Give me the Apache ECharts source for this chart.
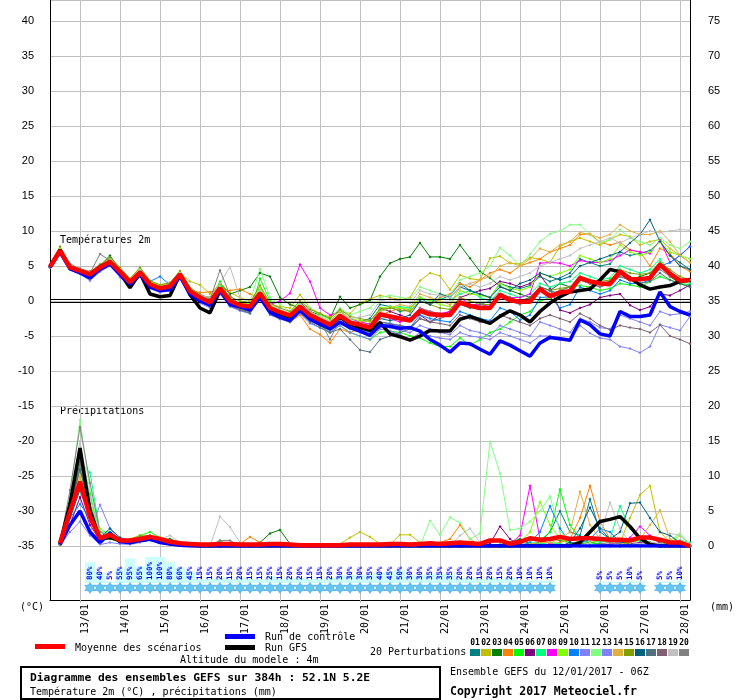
<!DOCTYPE html>
<html><head><meta charset="utf-8">
<script src="https://cdn.jsdelivr.net/npm/echarts@6/dist/echarts.min.js"></script>
<style>html,body{margin:0;padding:0;background:#fff}#c{width:740px;height:700px}</style>
</head><body><div id="c"></div>
<script>
// ---- categories / labels ----
const dates = ['12/01','13/01','14/01','15/01','16/01','17/01','18/01','19/01','20/01','21/01','22/01','23/01','24/01','25/01','26/01','27/01','28/01'];
const hours = ['00Z','06Z','12Z','18Z'];
const dayLabels = ['13/01','14/01','15/01','16/01','17/01','18/01','19/01','20/01','21/01','22/01','23/01','24/01','25/01','26/01','27/01','28/01'];
const perturbNames = ['01','02','03','04','05','06','07','08','09','10','11','12','13','14','15','16','17','18','19','20'];
const perturbColors = ['#008080','#c0c000','#008000','#ff8000','#00ff00','#800080','#00ff80','#ff00ff','#80ff00','#0080ff','#8080ff','#80ff80','#8080ff','#e0b040','#80a000','#006080','#507080','#806070','#c0c0c0','#808080'];

// ---- temperature 2m (°C) ----
const tempMean = [4.9,7.2,4.8,4.3,3.8,4.8,5.6,4.2,2.7,4.1, 2.4,1.8,2.1,3.8,1.4,0.5,-0.2,1.8,0.0,-0.6, -0.8,1.1,-1.0,-1.6,-2.1,-0.8,-2.0,-2.7,-3.4,-2.1, -3.1,-3.4,-3.8,-1.9,-2.2,-2.5,-2.8,-1.4,-1.9,-2.0, -2.0,-0.2,-0.7,-1.0,-1.0,0.9,0.1,-0.1,-0.1,1.7, 0.7,1.2,1.4,3.3,2.8,2.5,2.4,4.2,3.1,3.1, 3.3,5.2,3.9,2.9,3.0];
const tempControl = [4.8,7.0,4.6,4.0,3.3,4.5,5.3,3.8,2.4,3.8, 2.0,1.5,1.6,3.5,1.0,0.0,-0.6,1.5,-0.5,-0.8, -1.3,0.5,-1.6,-2.3,-2.8,-1.3,-2.6,-3.3,-4.0,-3.0, -3.8,-4.3,-4.9,-3.5,-3.6,-3.9,-3.8,-4.3,-5.5,-6.3, -7.3,-6.0,-6.1,-6.9,-7.6,-5.7,-6.3,-7.1,-7.9,-6.0, -5.2,-5.4,-5.6,-2.7,-3.4,-4.7,-5.0,-1.5,-2.2,-2.2, -2.0,1.3,-0.8,-1.5,-2.0];
const tempGFS = [4.9,7.3,4.7,4.1,3.6,4.9,5.5,4.0,1.9,4.0, 1.0,0.6,0.8,3.8,0.9,-1.0,-1.7,1.5,-0.3,-0.8, -1.0,1.0,-1.2,-1.8,-2.3,-0.9,-2.2,-2.9,-3.4,-2.3, -3.3,-3.8,-4.2,-3.1,-4.7,-5.1,-5.6,-5.0,-4.2,-4.3, -4.3,-2.6,-2.2,-2.7,-3.2,-2.2,-1.4,-2.0,-3.0,-1.5, -0.3,0.6,1.3,1.5,1.7,3.0,4.5,4.2,3.3,2.3, 1.7,2.0,2.2,2.8,3.0];
const tempP01 = [4.8,7.0,4.9,4.4,3.6,5.0,5.8,4.3,2.5,4.0, 2.2,1.5,1.8,3.6,1.2,0.2,-0.5,1.6,-0.3,-1.0, -1.2,0.8,-1.5,-2.0,-2.4,-1.0,-2.5,-3.0,-3.8,-2.5, -3.5,-3.0,-2.5,-0.5,-0.8,-1.5,-1.2,0.5,-0.5,0.2, 0.8,2.5,1.5,1.0,0.5,2.5,2.0,1.8,2.2,3.5, 2.8,3.3,4.0,6.0,5.5,5.0,5.3,7.0,6.5,6.8, 7.2,8.5,6.5,5.5,4.5];
const tempP02 = [4.9,7.4,5.0,4.5,4.0,5.2,5.9,4.6,3.0,4.4, 2.8,2.3,2.6,4.0,2.8,2.3,1.0,2.5,1.2,0.5, 0.0,1.5,-0.5,-0.8,-1.0,0.9,-1.0,-1.8,-2.3,-1.5, -1.8,-0.3,0.3,0.8,0.5,0.2,0.5,2.9,4.0,3.6, 1.6,3.7,3.2,3.0,6.1,6.4,5.4,5.3,6.2,6.0, 5.5,7.8,8.5,9.0,8.5,8.0,8.8,9.5,9.2,8.0, 8.5,8.8,7.5,6.5,5.5];
const tempP03 = [4.9,7.1,4.7,4.2,3.9,5.0,6.5,4.4,2.8,4.2, 2.3,1.6,2.0,3.9,1.5,0.8,0.5,2.5,1.0,1.5, 2.0,4.0,3.5,0.5,-0.5,-1.0,-1.5,-2.0,-2.5,0.6, -1.0,-0.5,0.1,3.5,5.4,6.0,6.3,8.3,6.3,6.3, 6.0,8.0,6.1,4.2,3.3,2.1,1.5,1.0,0.5,2.0, 1.5,2.5,2.0,3.5,3.0,2.5,2.8,4.0,3.0,3.5, 4.0,5.5,3.5,2.5,2.0];
const tempP04 = [4.8,7.0,4.6,4.2,3.0,4.5,5.4,4.0,2.4,3.9, 2.2,1.5,1.9,3.5,1.6,1.2,1.3,1.5,1.5,1.7, 1.0,0.5,-1.0,-2.0,-3.0,-2.0,-4.0,-4.8,-6.0,-4.0, -4.5,-4.0,-3.5,-2.0,-1.5,-1.0,-1.5,0.0,-0.5,0.5, 1.0,2.5,2.0,3.0,4.0,4.5,4.0,5.0,5.5,6.0, 7.0,7.5,8.0,9.5,9.6,8.4,8.0,8.4,7.3,7.0, 5.0,7.5,6.8,5.0,4.2];
const tempP05 = [4.9,7.2,4.8,4.4,3.8,4.9,5.8,4.3,2.6,4.3, 2.5,1.9,2.2,3.9,1.5,0.5,-0.3,2.8,0.0,-1.2, -1.8,3.2,0.0,-1.5,-2.6,-1.0,-2.5,-3.5,-4.5,-3.5, -4.5,-5.0,-5.5,-4.5,-4.3,-4.5,-5.0,-5.3,-6.0,-6.5, -6.5,-5.3,-6.3,-5.5,-4.5,-4.0,-3.0,-2.0,-1.5,0.0, 0.5,1.5,2.0,2.2,2.0,1.5,1.8,2.5,2.3,2.0, 2.8,3.5,3.0,2.5,2.3];
const tempP06 = [4.9,7.1,4.7,4.1,3.7,4.7,5.5,4.1,2.6,4.0, 2.3,1.7,2.0,3.7,1.3,0.3,-0.4,1.6,-0.2,-0.9, -1.1,0.8,-1.3,-1.9,-2.4,-0.2,-1.5,-2.5,-3.0,-2.0, -3.0,-3.3,-3.5,-1.0,-1.5,-2.0,-2.5,-2.0,-3.0,-2.0, -1.5,0.5,1.0,1.5,1.8,2.8,2.5,2.0,2.5,3.7, 1.8,-1.3,-1.7,-1.0,-0.5,0.5,0.8,1.0,-0.6,-1.3, -0.8,1.0,0.8,1.5,2.3];
const tempP07 = [4.9,7.3,4.9,4.5,4.0,5.0,5.7,4.3,2.9,4.4, 2.6,2.0,2.3,3.9,1.6,0.6,-0.1,2.0,0.2,-0.4, -0.6,1.5,-0.8,-1.4,-2.0,-0.5,-1.8,-2.5,-3.2,-2.0, -2.8,-3.0,-3.3,-1.5,-1.0,-0.8,-1.0,0.5,0.0,0.3, 0.2,1.0,1.5,0.5,0.0,1.5,1.0,0.5,1.0,2.5, 2.0,2.5,2.8,4.0,3.5,3.0,3.3,5.0,4.5,4.0, 4.5,6.0,4.0,3.0,2.5];
const tempP08 = [4.9,7.0,5.0,4.6,4.2,4.8,5.3,4.0,2.5,4.1, 2.4,2.0,2.2,3.7,1.3,0.3,-0.5,1.5,-0.4,-1.0, -1.2,1.0,-0.5,0.0,1.1,5.2,2.8,-1.0,-2.0,-1.5, -2.5,-3.0,-3.3,-2.0,-2.5,-3.0,-2.5,-1.0,-1.5,-1.8, -1.5,0.5,-0.5,-0.5,-0.8,1.0,0.5,0.5,1.0,5.4, 5.5,5.4,5.0,5.8,5.5,5.5,5.8,6.5,7.3,7.0, 6.8,8.7,5.5,6.5,7.8];
const tempP09 = [5.0,7.5,5.1,4.6,4.1,5.1,6.0,4.6,3.0,4.5, 2.8,2.1,2.5,4.2,1.8,0.9,0.2,2.3,0.4,-0.3, -0.4,2.0,-0.6,-1.3,-1.7,-0.3,-1.6,-2.2,-2.8,-1.5, -2.5,-2.8,-3.0,-1.0,-0.8,-1.0,-1.2,0.5,0.0,-0.5, -0.8,1.5,1.0,0.8,0.5,2.5,1.8,1.5,2.0,4.0, 3.5,4.0,4.5,6.5,6.0,5.5,6.0,8.0,7.0,6.5, 7.0,8.5,7.0,6.5,6.0];
const tempP10 = [4.9,7.1,4.7,4.3,3.7,4.8,5.6,4.1,2.7,4.0, 2.8,3.5,2.3,3.7,1.2,0.2,-0.6,1.5,-0.3,-1.0, -1.2,0.8,-1.4,-2.0,-2.5,-1.2,-2.3,-3.0,-3.8,-2.5, -3.5,-4.0,-4.5,-3.0,-3.2,-3.5,-3.8,-2.0,-2.5,-2.8, -3.0,-1.5,-2.0,-2.5,-2.8,-1.0,-1.5,-2.7,-2.0,0.5, 0.6,-1.0,-0.5,2.0,1.5,1.0,1.5,3.0,2.5,2.5, 3.0,5.0,5.5,6.5,7.8];
const tempP11 = [4.8,6.8,4.5,3.9,2.9,4.2,5.0,3.4,2.2,3.5, 1.8,1.2,1.5,3.2,0.8,-0.3,-1.0,1.0,-0.8,-1.4, -1.8,0.3,-2.0,-2.6,-3.0,-1.8,-3.2,-3.8,-4.5,-3.5, -4.5,-5.0,-5.5,-4.0,-4.3,-4.8,-5.5,-4.5,-5.0,-5.3, -5.5,-4.5,-5.0,-5.2,-5.5,-4.5,-5.0,-5.5,-6.0,-5.0, -5.0,-5.5,-5.5,-3.5,-4.6,-5.3,-5.5,-6.5,-6.8,-7.4, -6.5,-3.4,-3.8,-4.2,-2.2];
const tempP12 = [4.9,7.3,4.9,4.4,3.9,5.0,5.8,4.4,2.9,4.3, 2.5,1.9,2.2,4.0,1.7,0.8,0.0,2.2,0.3,-0.2, -0.2,4.6,0.5,-0.5,-1.5,0.0,-1.0,-2.0,-2.5,-1.0, -2.0,-1.5,-1.0,0.5,0.8,0.5,0.3,2.0,1.5,1.0, 0.8,3.0,3.5,4.0,5.0,7.6,6.5,5.0,6.7,8.5, 9.6,10.0,10.9,10.9,9.5,8.3,8.8,10.2,9.0,8.5, 8.0,9.0,8.0,7.5,8.5];
const tempP13 = [4.8,6.9,4.6,4.0,3.1,4.3,5.1,3.6,2.3,3.6, 1.9,1.3,1.6,3.3,0.9,-0.1,-0.8,1.2,-0.6,-1.2, -1.5,0.5,-1.8,-2.4,-2.8,-1.5,-2.8,-3.5,-4.2,-3.2, -4.0,-4.5,-5.0,-3.5,-3.8,-4.2,-4.5,-3.5,-4.0,-4.5, -4.8,-3.5,-4.2,-4.5,-5.0,-3.5,-4.0,-4.5,-5.0,-3.0, -3.5,-4.0,-4.5,-2.5,-3.0,-3.8,-4.0,-2.0,-2.5,-3.0, -3.5,-1.5,-2.0,-1.8,-1.5];
const tempP14 = [4.9,7.2,4.8,4.3,3.7,4.7,5.5,4.2,2.7,4.0, 2.3,1.7,2.0,3.6,1.4,0.4,-0.3,1.7,-0.2,-0.8, -1.0,1.2,-1.0,-1.8,-2.4,-1.0,-2.2,-3.0,-3.5,-2.5, -3.2,-3.0,-2.8,-1.5,-1.0,-0.5,-0.8,1.0,0.5,0.0, -0.5,2.0,2.5,3.0,3.5,5.0,5.5,5.0,6.0,7.5, 7.0,8.0,8.5,9.8,9.5,9.0,9.5,10.9,10.0,9.5, 9.5,10.0,8.5,6.5,5.5];
const tempP15 = [5.0,7.8,5.1,4.6,4.2,5.2,6.2,4.8,3.2,4.8, 2.9,2.3,2.6,4.3,1.9,1.0,0.3,2.4,0.6,0.0, -0.2,2.2,-0.3,-1.0,-1.5,0.0,-1.2,-1.8,-2.5,-1.2, -2.2,-2.5,-2.8,-1.2,-1.0,-1.3,-1.5,0.0,-0.5,-1.0, -1.2,0.5,0.0,-0.5,-0.5,1.0,0.5,0.0,0.5,2.0, 1.5,1.8,2.0,3.5,3.0,2.8,3.0,4.5,4.0,3.8, 4.0,5.5,4.5,3.5,3.0];
const tempP16 = [4.9,7.1,4.7,4.2,3.6,4.6,5.4,4.0,2.5,3.9, 2.2,1.6,1.9,3.5,1.2,0.2,-0.4,1.6,-0.1,-0.8, -1.0,1.0,-1.2,-1.8,-2.3,-1.0,-2.2,-2.8,-3.3,-2.3, -3.2,-3.5,-3.8,-2.5,-2.8,-2.5,-2.0,0.0,-0.5,1.0, 0.5,2.0,1.5,1.0,0.5,2.0,1.5,2.5,3.0,4.0, 3.5,3.0,3.5,5.0,5.5,6.0,6.5,7.0,8.3,9.5, 11.6,8.5,6.5,5.0,4.5];
const tempP17 = [4.8,7.0,4.6,4.0,3.4,4.5,5.3,3.9,2.4,3.8, 2.0,1.4,1.7,3.4,1.0,0.0,-0.8,1.3,-0.7,-1.3, -1.7,0.4,-1.9,-2.5,-3.0,-1.7,-3.0,-3.8,-4.5,-4.0, -5.5,-7.0,-7.3,-5.5,-5.0,-4.5,-4.0,-2.5,-3.0,-2.5, -2.0,-0.5,-1.0,-0.5,0.0,1.0,0.5,0.0,0.5,2.0, 1.5,1.0,1.5,3.0,2.5,2.0,2.5,3.5,3.0,2.5, 2.8,4.0,3.0,2.5,2.0];
const tempP18 = [4.8,6.9,4.6,4.1,3.5,4.6,5.4,4.0,2.5,3.9, 2.1,1.5,1.8,3.4,1.1,0.0,-0.7,1.3,-0.6,-1.2, -1.5,0.5,-1.6,-2.3,-2.8,-1.5,-2.8,-3.5,-4.0,-3.0, -3.8,-4.0,-4.3,-3.0,-3.3,-3.5,-3.8,-2.5,-3.0,-3.2, -3.5,-2.0,-2.5,-3.0,-3.2,-2.0,-2.5,-3.0,-3.5,-2.5, -2.0,-2.5,-3.0,-1.8,-2.5,-3.5,-4.1,-3.5,-3.8,-4.0, -4.5,-3.4,-5.0,-5.5,-6.1];
const tempP19 = [5.0,7.3,5.1,4.5,4.1,5.0,5.9,4.5,2.9,4.4, 2.6,2.0,2.4,4.0,1.7,0.8,0.5,2.5,4.9,0.5, -0.3,1.5,-0.5,-1.2,-1.8,-0.5,-1.5,-2.3,-3.0,-2.0, -2.5,-2.3,-2.0,0.0,0.3,0.0,-0.3,1.5,1.0,0.8, 0.5,2.0,2.5,2.0,2.5,3.5,3.0,3.5,4.0,5.0, 5.5,6.0,6.5,7.5,8.0,8.5,9.0,8.3,9.0,9.5, 10.0,9.8,10.0,10.2,10.1];
const tempP20 = [4.9,7.2,5.3,4.6,4.0,6.7,5.8,4.3,2.8,4.2, 2.5,1.9,2.2,3.8,1.5,0.7,0.2,4.4,0.8,-0.5, -0.8,1.2,-1.0,-1.7,-2.2,-0.8,-2.0,-2.8,-5.5,-2.5, -3.5,-3.8,-4.0,-2.5,-2.3,-2.5,-2.8,-1.0,-1.5,-1.8, -2.0,0.0,-0.5,-0.8,-1.0,0.5,0.0,-0.5,0.0,1.5, 1.0,1.5,2.0,3.0,2.5,2.0,2.5,3.5,3.0,3.0, 3.5,4.5,3.5,3.0,3.0];

// ---- precipitation (mm / 6h) ----
const rainMean = [null,0.4,4.9,9.2,4.2,1.1,1.6,0.8,0.8,1.0, 1.3,1.0,0.6,0.4,0.3,0.2,0.2,0.3,0.3,0.2, 0.2,0.2,0.3,0.3,0.2,0.1,0.1,0.1,0.1,0.1, 0.2,0.2,0.2,0.2,0.3,0.3,0.2,0.3,0.4,0.3, 0.4,0.5,0.4,0.3,0.8,0.8,0.3,0.6,1.1,0.9, 1.0,1.3,1.0,1.1,1.1,1.0,0.9,0.9,0.8,1.2, 1.2,0.9,0.5,0.5,0.0];
const rainControl = [null,0.2,3.0,5.0,2.0,0.5,1.8,0.6,0.5,0.8, 1.0,0.5,0.3,0.1,0,0,0,0,0,0, 0,0,0,0,0,0,0,0,0,0, 0,0,0,0,0,0,0,0,0,0, 0,0,0,0,0,0,0,0,0,0, 0,0,0,0,0,0,0,0,0,0, 0,0,0,0,0];
const rainGFS = [null,0.3,6.0,14.0,5.0,1.0,1.2,0.8,0.5,0.8, 1.0,0.6,0.3,0.2,0.1,0,0,0,0,0, 0,0,0,0,0,0,0,0,0,0, 0,0,0,0,0,0,0,0,0,0, 0,0,0,0,0,0,0,0,0,0, 0,0,0,0.5,2.0,3.5,3.8,4.2,2.8,1.1, 0.2,0,0,0,0];
const rainP01 = [null,0.2,5,12,6,1.5,1.5,0.8,0.6,1, 1.2,1,0.5,0.3,0.2,0.1,0,0,0.1,0, 0,0.1,0,0,0,0,0,0,0,0, 0,0,0,0,0.1,0,0,0,0,0, 0,0.3,0.2,0,0,0.2,0.5,0.3,0.2,0.5, 2,5,2,1.5,6.7,2,1,0.5,0.3,0.2, 0,0,0.2,0.3,0];
const rainP02 = [null,0.1,4,10,4,1,1,0.5,0.5,0.8, 1,0.8,0.5,0.3,0.2,0,0,0,0,0, 0,0,0,0,0,0,0,0,0,0.3, 1.2,2.0,1.3,0.3,0.2,1.6,1.6,0.5,0,0, 0,0,0,0,0,0,0,0,0,0, 0,0,0,0.3,0.5,0.8,0.5,0.5,4,7.3, 8.6,2,0.5,0.3,0];
const rainP03 = [null,0.3,6,11,5,1.2,2,1,0.8,1.2, 1.5,1,1,0.5,0.3,0.1,0,0,0,0, 0.2,0.5,1.8,2.3,0.3,0,0,0,0,0, 0,0,0,0.2,0,0,0,0.3,0,0, 0,0.5,0.3,0,0,0,0.5,1.0,0.3,0.5, 1.0,0.8,0.5,0.3,0.5,0.3,0.2,0.5,0.5,1.0, 1.3,0.5,0.3,0.2,0];
const rainP04 = [null,0.2,5,13,4,1,1.5,0.5,1,1.5, 1.2,0.8,0.5,0.3,0.1,0,0,0,0,0.3, 1.3,0.5,0,0,0,0,0,0,0,0, 0,0,0,0,0,0,0,0,0,0.5, 1.0,3.0,1.0,0,0,0,0,0,0,0, 0.3,0.5,1.0,4.0,8.6,3.5,1.0,0.3,0,0, 0,0,0,0,0];
const rainP05 = [null,0.3,4,9,7.5,1.5,1,1,0.8,1.5, 2,1.2,0.5,0.3,0.2,0,0,0.8,0,0, 0,0,0,0,0,0,0,0,0,0, 0,0,0,0,0,0,0,0,0,0, 0,0,0,0,0,0,0,0.5,1.0,0.8, 2.0,8.1,3.0,1.0,0.5,0.3,0,0,0.5,0.8, 0.3,0,0,0.3,0];
const rainP06 = [null,0.2,3,7,3,0.8,1.5,0.8,0.6,1, 1.2,0.8,0.6,0.3,0.2,0,0,0,0,0, 0,0,0,0,0,0,0,0,0,0, 0,0,0,0,0,0,0,0,0,0, 0,0,0,0,0.3,2.8,1.0,0,0,0, 0,0,0,0,0,0,0,0,0.3,0.5, 0.3,0,0,0,0];
const rainP07 = [null,0.3,6,12,10.5,2,2,1,0.8,1.2, 1.4,1,0.8,0.5,0.2,0,0,0,0,0, 0,0,0,0,0,0,0,0,0,0, 0,0,0,0,0,0,0,0.3,0,0, 0,0,0,0,0,0,0,0,0.5,0.3, 0.5,0.3,0,0.5,1.0,0.5,1.0,5.7,2.5,0.8, 0.3,0,0.3,0.8,0.5];
const rainP08 = [null,0.2,4,9,3.5,1,1.2,0.6,0.5,1, 1.2,0.8,0.5,0.3,0.1,0,0,0,0,0, 0,0,0,0,0,0,0,0,0,0, 0,0,0,0,0,0,0,0,0,0, 0,0,0,0,0,0,0.3,1.5,8.6,1.0, 0.3,0,0,0,0,0,0.3,0.5,1.2,2.8, 1.5,0.3,0,0,0];
const rainP09 = [null,0.2,5,8,6,2.5,1.5,0.8,0.5,1, 1.5,1,0.5,0.3,0.2,0,0,0,0,0, 0,0,0,0,0,0,0,0,0,0, 0,0,0,0,0,0,0,0,0,0, 0,0,0,0,0,0,0,0.5,2.0,6.3, 3.0,1.0,0.3,0,0,0,0,0,0,0, 0,0,0.5,1.5,0.3];
const rainP10 = [null,0.3,4,6,4,1,2,1,0.8,1, 1.3,0.8,0.6,0.4,0.2,0,0,0,0,0, 0,0,0,0,0,0,0,0,0,0, 0,0,0,0.3,0,0,0,0,0,0, 0,0,0,0,0,0,0,0,0.5,2.0, 5.7,2.5,0.5,0.3,1.0,2.5,2.0,0.5,0,0, 0,0,0,0,0];
const rainP11 = [null,0.1,2,3.5,1.5,0.2,0.5,0.3,0.2,0.5, 0.8,0.5,0.3,0.2,0.1,0,0,0,0,0, 0,0,0,0,0,0,0,0,0,0, 0,0,0,0.2,0,0,0,0,0,0, 0,0,0,0,0,0,0,0,0,0, 0,0,0,0,0,0,0,0,0,0, 0,0,0,0,0];
const rainP12 = [null,0.3,7,18,8,2,1.5,0.8,0.8,1.2, 1.3,1,0.6,0.4,0.2,0,0,0,0,0, 0,0,0,0,0,0,0,0,0,0, 0,0,0,0,0,0,0,0,3.6,1.6, 4.1,3.3,1.0,1.8,14.9,10.4,2.3,2.5,3.5,5.0, 7.1,2.0,1.0,0.5,0.3,0,0,0,0,0, 0,0.3,0.8,1.8,0.3];
const rainP13 = [null,0.2,3,5,2,5.9,2.5,0.8,0.5,1, 1,0.8,0.5,0.3,0.2,0,0,0.5,0,0, 0,0,0,0,0,0,0,0,0,0, 0,0,0,0,0,0,0,0,0,0, 0,0,0,0,0,0,0,0,0,0, 0,0,0,0,0,0,0,0,0,0, 0,0,0,0,0];
const rainP14 = [null,0.2,5,10,5,1,1.3,0.6,0.5,1, 1.2,0.8,0.6,0.3,0.2,0,0,0,0,0, 0,0,0,0,0,0,0,0,0,0, 0,0,0,0,0,0,0,0,0,0, 0,0,0,0,0,0,0,0,0.3,0.5, 0.5,1.0,2.0,7.8,3.0,1.0,0.5,0.3,0.5,1.0, 3.0,5.1,1.0,0.3,0];
const rainP15 = [null,0.2,6,13,5.5,1.5,1.5,0.8,0.6,1.4, 1.5,0.8,0.5,0.3,0.2,0.1,0,0,0,0, 0,0,0,0,0,0,0,0,0,0, 0,0,0,0,0,0,0,0,0,0, 0,0,0,0,0,0,0,0,0,0, 0,0,0,0,0,0,0,0,0.5,1.0, 0.5,0,0,0,0];
const rainP16 = [null,0.3,4,8,4,1.2,2.5,1.2,0.8,1, 1.2,0.8,0.5,0.3,0.2,0,0,0,0,0, 0,0,0,0,0,0,0,0,0,0, 0,0,0,0,0,0,0,0,0,0, 0,0,0,0,0,0,0,0,0,0, 0,0,0.5,2.5,5.5,2.5,1.0,2.0,6.1,6.2, 4.0,2.0,1.5,0.5,0];
const rainP17 = [null,0.2,5,11,6,1,1.4,0.8,0.5,1, 1.2,0.8,0.5,0.3,0.2,0,0,0,0,0, 0,0,0,0,0,0,0,0,0,0, 0,0,0,0,0,0,0,0,0,0, 0,0,0,0,0,0,0,0,0,0, 0,0,0,0,0,0,0,0,0,0.3, 0.5,0.3,0,0,0];
const rainP18 = [null,0.2,5,12,5,1,1.2,0.6,0.5,0.8, 1,0.8,0.4,0.2,0.1,0,0,0,0,0, 0,0,0,0,0,0,0,0,0,0, 0,0,0,0,0,0,0,0,0,0, 0,0,0,0,0,0,0,0,0,0, 0,0,0,0,0,0,0,0,0,0, 0,0,0,0,0];
const rainP19 = [null,0.3,6,15,7,1.5,1.5,0.8,0.6,1, 1.3,1,1.5,0.5,0.2,0,0,4.2,2.7,0.5, 0,0,0,0,0,0,0,0,0,0, 0,0,0,0,0,0,0,0,0,0, 0,1.5,2.5,0.5,0,0,0,0,0,0, 0,0,0,0,0.5,1.5,6.2,2.5,0.5,0.3, 0.5,0.3,1.8,1.5,0.3];
const rainP20 = [null,0.4,8,17,9,2,1.5,0.8,0.6,1, 1.2,1,0.8,0.5,0.3,0,0,0.8,0.8,0, 0,0,0,0,0,0,0,0,0,0, 0,0,0,0,0,0,0,0,0,0, 0,0,0,0,0,0,0,0,0,0, 0,0,0,0,0,0.3,0.5,0.3,0,0, 0,0,0,0,0];

// ---- snow probability (%) ----
const snowPct = [null,null,null,null,80,40,5,55,95,65, 100,100,80,60,45,15,15,20,15,20, 15,15,25,15,20,20,15,15,20,30, 30,30,35,40,45,50,30,30,35,35, 35,20,20,15,20,15,20,10,10,10, 10,null,null,null,null,5,5,5,10,5, null,5,5,10,null];

// ---- build ----
const steps = [];
dates.forEach(d => hours.forEach(h => steps.push(d + ' ' + h)));
const cats = steps.slice(1, 66);
const tempP = [tempP01,tempP02,tempP03,tempP04,tempP05,tempP06,tempP07,tempP08,tempP09,tempP10,tempP11,tempP12,tempP13,tempP14,tempP15,tempP16,tempP17,tempP18,tempP19,tempP20];
const rainP = [rainP01,rainP02,rainP03,rainP04,rainP05,rainP06,rainP07,rainP08,rainP09,rainP10,rainP11,rainP12,rainP13,rainP14,rainP15,rainP16,rainP17,rainP18,rainP19,rainP20];

const MONO = '"DejaVu Sans Mono", monospace';
const dayTick = (i) => i % 4 === 3;
const series = [];
tempP.forEach((d, k) => series.push({
  type: 'line', xAxisIndex: 0, yAxisIndex: 0, data: d, z: 3,
  symbol: 'diamond', symbolSize: 3, showSymbol: true,
  lineStyle: { width: 1, color: perturbColors[k] }, itemStyle: { color: perturbColors[k] },
  emphasis: { disabled: true }, silent: true
}));
rainP.forEach((d, k) => series.push({
  type: 'line', xAxisIndex: 0, yAxisIndex: 1, data: d, z: 3,
  symbol: 'diamond', symbolSize: 3, showSymbol: true,
  lineStyle: { width: 1, color: perturbColors[k] }, itemStyle: { color: perturbColors[k] },
  emphasis: { disabled: true }, silent: true
}));
// zero line (double black line)
series.push({
  type: 'line', xAxisIndex: 0, yAxisIndex: 0, data: [], z: 2, silent: true,
  markLine: { silent: true, symbol: 'none', label: { show: false },
    lineStyle: { color: '#000', width: 1, type: 'solid' },
    data: [{ yAxis: 0.2 }, { yAxis: -0.2 }] }
});
const thick = [
  [tempGFS, 0, '#000000', 3.5], [rainGFS, 1, '#000000', 3.5],
  [tempControl, 0, '#0000ff', 3.5], [rainControl, 1, '#0000ff', 3.5],
  [tempMean, 0, '#ff0000', 4.5], [rainMean, 1, '#ff0000', 4.5]
];
thick.forEach(([d, ax, c, w], j) => series.push({
  type: 'line', xAxisIndex: 0, yAxisIndex: ax, data: d, z: 5 + j,
  showSymbol: false, lineStyle: { width: w, color: c }, itemStyle: { color: c }, silent: true
}));
// snow bars + labels
series.push({
  type: 'bar', xAxisIndex: 1, yAxisIndex: 2, data: snowPct, barWidth: 10, z: 3, silent: true,
  itemStyle: { color: '#ccffff' },
  label: { show: true, position: 'insideBottom', distance: 3, rotate: 90,
    align: 'left', verticalAlign: 'middle',
    formatter: p => p.value + '%', color: '#0000ff', fontFamily: MONO, fontSize: 7.5, fontWeight: 'bold' }
});
const flakeRow = snowPct.map((v, i) => v == null ? null : [i, -19]);
series.push({
  type: 'scatter', xAxisIndex: 1, yAxisIndex: 2, z: 4, silent: true, data: flakeRow,
  symbol: 'circle', symbolSize: 9, itemStyle: { color: '#8fdcf7' }
});
series.push({
  type: 'scatter', xAxisIndex: 1, yAxisIndex: 2, z: 5, silent: true, data: flakeRow,
  symbol: 'path://M0,-5L1.2,-2.1L4.3,-2.5L2.4,0L4.3,2.5L1.2,2.1L0,5L-1.2,2.1L-4.3,2.5L-2.4,0L-4.3,-2.5L-1.2,-2.1Z',
  symbolSize: 11, itemStyle: { color: '#55c0ee', borderColor: '#3a96dc', borderWidth: 0.6 }
});

// graphic texts
const g = [];
const txt = (x, y, s, font, fill) => g.push({ type: 'text', x, y, silent: true,
  style: { text: s, font: font, fill: fill || '#000', align: 'left', verticalAlign: 'middle' } });
txt(60, 240, 'Températures 2m', '10px ' + MONO);
txt(60, 411, 'Précipitations', '10px ' + MONO);
txt(20, 607, '(°C)', '10px ' + MONO);
txt(710, 607, '(mm)', '10px ' + MONO);
g.push({ type: 'rect', shape: { x: 35, y: 644, width: 30, height: 5 }, style: { fill: '#ff0000' }, silent: true });
txt(75, 648, 'Moyenne des scénarios', '10px ' + MONO);
g.push({ type: 'rect', shape: { x: 225, y: 634, width: 30, height: 5 }, style: { fill: '#0000ff' }, silent: true });
txt(265, 637, 'Run de contrôle', '10px ' + MONO);
g.push({ type: 'rect', shape: { x: 225, y: 645, width: 30, height: 5 }, style: { fill: '#000000' }, silent: true });
txt(265, 648, 'Run GFS', '10px ' + MONO);
txt(180, 660, 'Altitude du modele : 4m', '10px ' + MONO);
txt(370, 652, '20 Perturbations', '10px ' + MONO);
perturbColors.forEach((c, k) => {
  g.push({ type: 'rect', shape: { x: 470 + 11 * k, y: 649, width: 10, height: 7 }, style: { fill: c }, silent: true });
  g.push({ type: 'text', x: 475 + 11 * k, y: 643, silent: true,
    style: { text: perturbNames[k], font: 'bold 8px ' + MONO, fill: '#000', align: 'center', verticalAlign: 'middle' } });
});
g.push({ type: 'rect', shape: { x: 21, y: 667, width: 419, height: 32 }, style: { fill: 'none', stroke: '#000', lineWidth: 2 }, silent: true });
txt(30, 678, 'Diagramme des ensembles GEFS sur 384h : 52.1N 5.2E', 'bold 11.3px ' + MONO);
txt(30, 692, 'Température 2m (°C) , précipitations (mm)', '10px ' + MONO);
txt(450, 672, 'Ensemble GEFS du 12/01/2017 - 06Z', '10px ' + MONO);
txt(450, 692, 'Copyright 2017 Meteociel.fr', 'bold 11.5px ' + MONO);

const xBase = {
  type: 'category', data: cats, boundaryGap: false,
  splitLine: { show: true, interval: dayTick, lineStyle: { color: '#c0c0c0', width: 1 } }
};
const chart = echarts.init(document.getElementById('c'), null, { renderer: 'canvas' });
chart.setOption({
  animation: false,
  backgroundColor: '#fff',
  grid: [
    { left: 50, right: 50, top: 0, height: 546 },
    { left: 50, right: 50, top: 546, height: 54 }
  ],
  xAxis: [
    Object.assign({}, xBase, { gridIndex: 0, axisLine: { show: false }, axisTick: { show: false }, axisLabel: { show: false } }),
    Object.assign({}, xBase, { gridIndex: 1, position: 'bottom',
      axisLine: { show: true, onZero: false, lineStyle: { color: '#000', width: 1 } },
      axisTick: { show: true, interval: dayTick, length: 3, lineStyle: { color: '#c0c0c0' } },
      axisLabel: { show: true, interval: dayTick, rotate: 90, margin: 4, verticalAlign: 'top',
        formatter: (v, i) => dayLabels[(i - 3) / 4] || '', fontFamily: MONO, fontSize: 10, color: '#000' } })
  ],
  yAxis: [
    { type: 'value', gridIndex: 0, position: 'left', min: -35, max: 43, interval: 5,
      axisLine: { show: true, lineStyle: { color: '#000' } }, axisTick: { show: false },
      axisLabel: { showMaxLabel: false, margin: 16, color: '#000', fontFamily: 'Liberation Sans, Arial', fontSize: 11 },
      splitLine: { show: true, lineStyle: { color: '#c0c0c0', width: 1 } } },
    { type: 'value', gridIndex: 0, position: 'right', min: 0, max: 78, interval: 5,
      axisLine: { show: true, lineStyle: { color: '#000' } }, axisTick: { show: false },
      axisLabel: { showMaxLabel: false, margin: 18, color: '#000', fontFamily: 'Liberation Sans, Arial', fontSize: 11 },
      splitLine: { show: false } },
    { type: 'value', gridIndex: 1, position: 'left', min: -65.4, max: 142.3,
      axisLine: { show: true, lineStyle: { color: '#000' } }, axisTick: { show: false },
      axisLabel: { show: false }, splitLine: { show: false } },
    { type: 'value', gridIndex: 1, position: 'right', min: -65.4, max: 142.3,
      axisLine: { show: true, lineStyle: { color: '#000' } }, axisTick: { show: false },
      axisLabel: { show: false }, splitLine: { show: false } }
  ],
  graphic: g,
  series: series
});
</script></body></html>
